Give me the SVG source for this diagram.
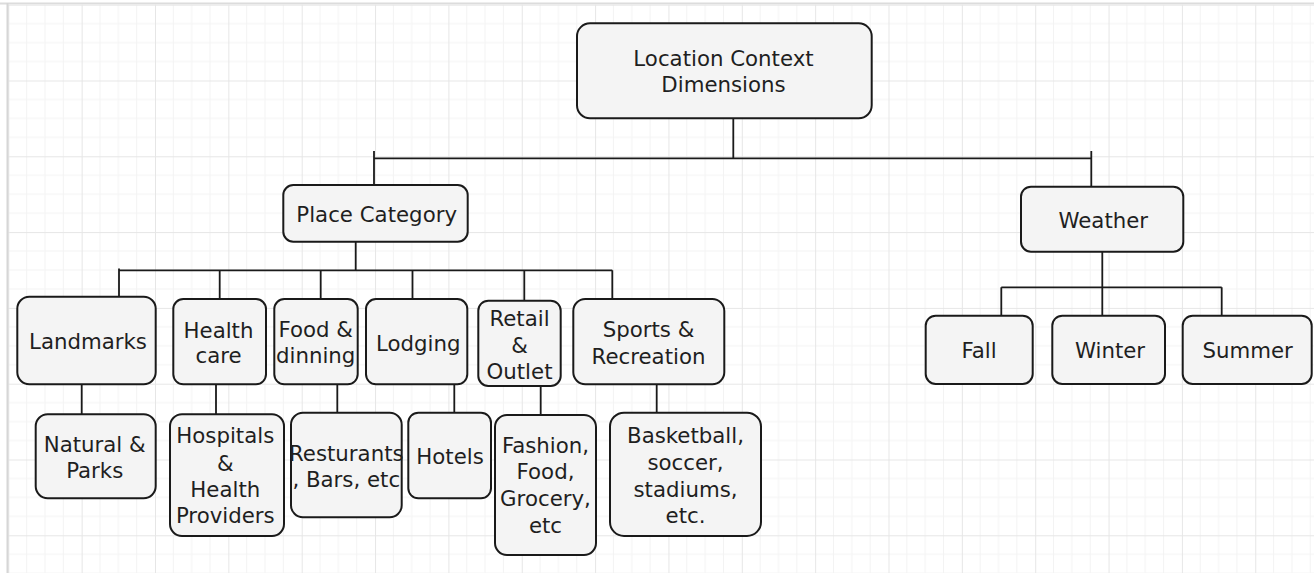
<svg xmlns="http://www.w3.org/2000/svg" width="1314" height="573" viewBox="0 0 1314 573">
<defs>
<pattern id="grid" patternUnits="userSpaceOnUse" x="8.3" y="4.7" width="73.35" height="75.8">
<g stroke="#f3f3f3" stroke-width="1">
<line x1="18.34" y1="0" x2="18.34" y2="75.8"/>
<line x1="36.68" y1="0" x2="36.68" y2="75.8"/>
<line x1="55.01" y1="0" x2="55.01" y2="75.8"/>
<line x1="0" y1="18.95" x2="73.35" y2="18.95"/>
<line x1="0" y1="37.9" x2="73.35" y2="37.9"/>
<line x1="0" y1="56.85" x2="73.35" y2="56.85"/>
</g>
<g stroke="#e6e6e6" stroke-width="1">
<line x1="0.5" y1="0" x2="0.5" y2="75.8"/>
<line x1="0" y1="0.5" x2="73.35" y2="0.5"/>
</g>
</pattern>
</defs>
<style>
.box{fill:#f4f4f4;stroke:#1a1a1a;stroke-width:2}
.lbl{font-family:"DejaVu Sans","Verdana",sans-serif;font-size:21.3px;fill:#1f1f1f;text-anchor:middle}
.conn{fill:none;stroke:#1a1a1a;stroke-width:1.8}
</style>
<rect x="0" y="0" width="1314" height="573" fill="#ffffff"/>
<rect x="8" y="4.7" width="1306" height="568.3" fill="url(#grid)"/>
<line x1="0" y1="3.5" x2="1314" y2="3.5" stroke="#dcdcdc" stroke-width="2"/>
<line x1="7.5" y1="3" x2="7.5" y2="573" stroke="#d6d6d6" stroke-width="2"/>

<g id="connectors">
<path class="conn" d="M733.3 118 V158.3 M374 151 V185 M1091.3 151 V186.5 M374 158.3 H1091.3"/>
<path class="conn" d="M355.7 241.7 V270.3 M119 268.5 V297 M119 270.3 H612.3 M219.7 270.3 V299 M320.7 270.3 V299 M412.5 270.3 V299 M524.3 270.3 V300.7 M612.3 270.3 V299"/>
<path class="conn" d="M81.7 384.3 V414.3 M216 384.3 V414.3 M337.3 384.3 V412.7 M454.3 384.3 V412.7 M540.7 386 V415 M656.7 384.3 V412.7"/>
<path class="conn" d="M1102.3 251.7 V287.3 M1001.3 287.3 H1221.7 M1001.3 287.3 V315.7 M1102.3 287.3 V315.7 M1221.7 287.3 V315.7"/>
</g>

<g id="root">
<rect class="box" x="577" y="23.3" width="294.7" height="95" rx="13"/>
<text class="lbl" x="723.5" y="66">Location Context</text>
<text class="lbl" x="723.5" y="92.3">Dimensions</text>
</g>

<g id="place-category">
<rect class="box" x="283.3" y="185" width="184.4" height="56.7" rx="10"/>
<text class="lbl" x="376.7" y="222.3">Place Category</text>
</g>

<g id="weather">
<rect class="box" x="1021" y="186.7" width="162.3" height="65" rx="10"/>
<text class="lbl" x="1103.3" y="227.7">Weather</text>
</g>

<g id="landmarks">
<rect class="box" x="17.3" y="296.7" width="138.4" height="87.6" rx="12"/>
<text class="lbl" x="88" y="349">Landmarks</text>
</g>

<g id="health-care">
<rect class="box" x="173.3" y="299" width="92.7" height="85.3" rx="10"/>
<text class="lbl" x="218.5" y="338">Health</text>
<text class="lbl" x="218.5" y="363.3">care</text>
</g>

<g id="food-dinning">
<rect class="box" x="274.3" y="299" width="83.4" height="85.3" rx="10"/>
<text class="lbl" x="315.7" y="337.3">Food &amp;</text>
<text class="lbl" x="315.7" y="363.3">dinning</text>
</g>

<g id="lodging">
<rect class="box" x="366" y="299" width="101.3" height="85.3" rx="10"/>
<text class="lbl" x="418.3" y="350.7">Lodging</text>
</g>

<g id="retail-outlet">
<rect class="box" x="478.3" y="300.7" width="82.4" height="85.3" rx="10"/>
<text class="lbl" x="519.5" y="326">Retail</text>
<text class="lbl" x="519.5" y="352.7">&amp;</text>
<text class="lbl" x="519.5" y="379">Outlet</text>
</g>

<g id="sports-recreation">
<rect class="box" x="573.3" y="299" width="151" height="85.3" rx="12"/>
<text class="lbl" x="648.5" y="337.3">Sports &amp;</text>
<text class="lbl" x="648.5" y="364">Recreation</text>
</g>

<g id="natural-parks">
<rect class="box" x="35.7" y="414.3" width="120" height="84" rx="12"/>
<text class="lbl" x="94.7" y="451.7">Natural &amp;</text>
<text class="lbl" x="94.7" y="478.3">Parks</text>
</g>

<g id="hospitals">
<rect class="box" x="170" y="414.3" width="114" height="121.7" rx="12"/>
<text class="lbl" x="225.3" y="443.3">Hospitals</text>
<text class="lbl" x="225.3" y="470.7">&amp;</text>
<text class="lbl" x="225.3" y="497.3">Health</text>
<text class="lbl" x="225.3" y="523.3">Providers</text>
</g>

<g id="resturants">
<rect class="box" x="291" y="412.7" width="110.7" height="104.6" rx="12"/>
<text class="lbl" x="346.3" y="461">Resturants</text>
<text class="lbl" x="346.3" y="487.3">, Bars, etc</text>
</g>

<g id="hotels">
<rect class="box" x="408.3" y="412.7" width="82.7" height="85.6" rx="10"/>
<text class="lbl" x="450" y="464.3">Hotels</text>
</g>

<g id="fashion">
<rect class="box" x="495" y="415" width="101" height="140" rx="12"/>
<text class="lbl" x="545.5" y="452.7">Fashion,</text>
<text class="lbl" x="545.5" y="479.3">Food,</text>
<text class="lbl" x="545.5" y="506">Grocery,</text>
<text class="lbl" x="545.5" y="532.7">etc</text>
</g>

<g id="basketball">
<rect class="box" x="610" y="412.7" width="151" height="123.3" rx="14"/>
<text class="lbl" x="685.5" y="443.3">Basketball,</text>
<text class="lbl" x="685.5" y="470">soccer,</text>
<text class="lbl" x="685.5" y="496.7">stadiums,</text>
<text class="lbl" x="685.5" y="523.3">etc.</text>
</g>

<g id="fall">
<rect class="box" x="925.7" y="315.7" width="107" height="68.3" rx="10"/>
<text class="lbl" x="979" y="358.3">Fall</text>
</g>

<g id="winter">
<rect class="box" x="1052.3" y="315.7" width="112.7" height="68.3" rx="10"/>
<text class="lbl" x="1110" y="358.3">Winter</text>
</g>

<g id="summer">
<rect class="box" x="1182.7" y="315.7" width="129" height="68.3" rx="10"/>
<text class="lbl" x="1247.7" y="358.3">Summer</text>
</g>
</svg>
